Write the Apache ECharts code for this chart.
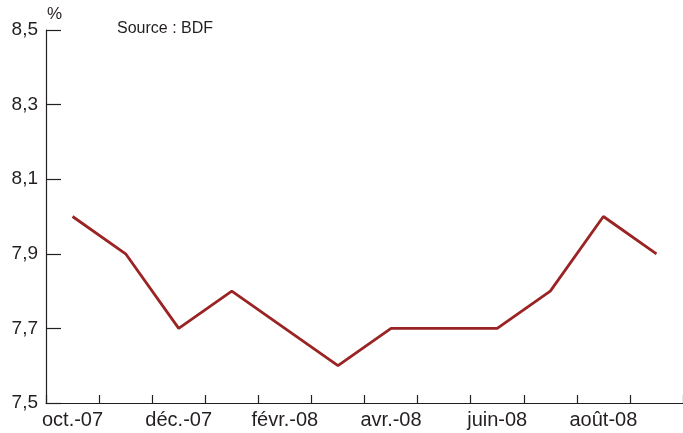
<!DOCTYPE html>
<html>
<head>
<meta charset="utf-8">
<script src="https://cdn.jsdelivr.net/npm/echarts@6/dist/echarts.min.js"></script>
<style>
  html, body { margin: 0; padding: 0; background: #fff; }
  #chart { width: 683px; height: 433px; }
</style>
</head>
<body>
<div id="chart"></div>
<script>
// mois, oct. 2007 -> sept. 2008
const months = ['oct.-07', 'nov.-07', 'déc.-07', 'janv.-08', 'févr.-08', 'mars-08',
  'avr.-08', 'mai-08', 'juin-08', 'juil.-08', 'août-08', 'sept.-08']
const rates = [8.0, 7.9, 7.7, 7.8, 7.7, 7.6, 7.7, 7.7, 7.7, 7.8, 8.0, 7.9]
const yMin = 7.5
const yMax = 8.5
const yStep = 0.2

const chart = echarts.init(document.getElementById('chart'))
const txt = '#231f20'
chart.setOption({
  animation: false,
  grid: { left: 46, right: -1, top: 30, bottom: 30, containLabel: false },
  graphic: [
    { type: 'text', left: 117, top: 21, style: { text: 'Source : BDF', fontSize: 16, fill: txt, fontFamily: 'Liberation Sans' } },
    { type: 'text', left: 47, top: 6, style: { text: '%', fontSize: 17, fill: txt, fontFamily: 'Liberation Sans' } }
  ],
  xAxis: {
    type: 'category',
    data: months,
    boundaryGap: true,
    axisLine: { lineStyle: { color: txt, width: 1.2 } },
    axisTick: { show: true, inside: true, length: 8, interval: 0, lineStyle: { color: txt, width: 1.2 } },
    axisLabel: {
      interval: 1, color: txt, fontSize: 20, margin: 7,
      fontFamily: 'Liberation Sans'
    }
  },
  yAxis: {
    type: 'value',
    min: yMin,
    max: yMax,
    interval: yStep,
    splitLine: { show: false },
    axisLine: { show: true, lineStyle: { color: txt, width: 1.2 } },
    axisTick: { show: true, inside: true, length: 15, lineStyle: { color: txt, width: 1.2 } },
    axisLabel: {
      color: txt, fontSize: 19, margin: 8,
      fontFamily: 'Liberation Sans',
      formatter: v => v.toFixed(1).replace('.', ',')
    }
  },
  series: [{
    type: 'line',
    data: rates,
    symbol: 'none',
    lineStyle: { color: '#9a2424', width: 2.8 }
  }]
})
</script>
</body>
</html>
